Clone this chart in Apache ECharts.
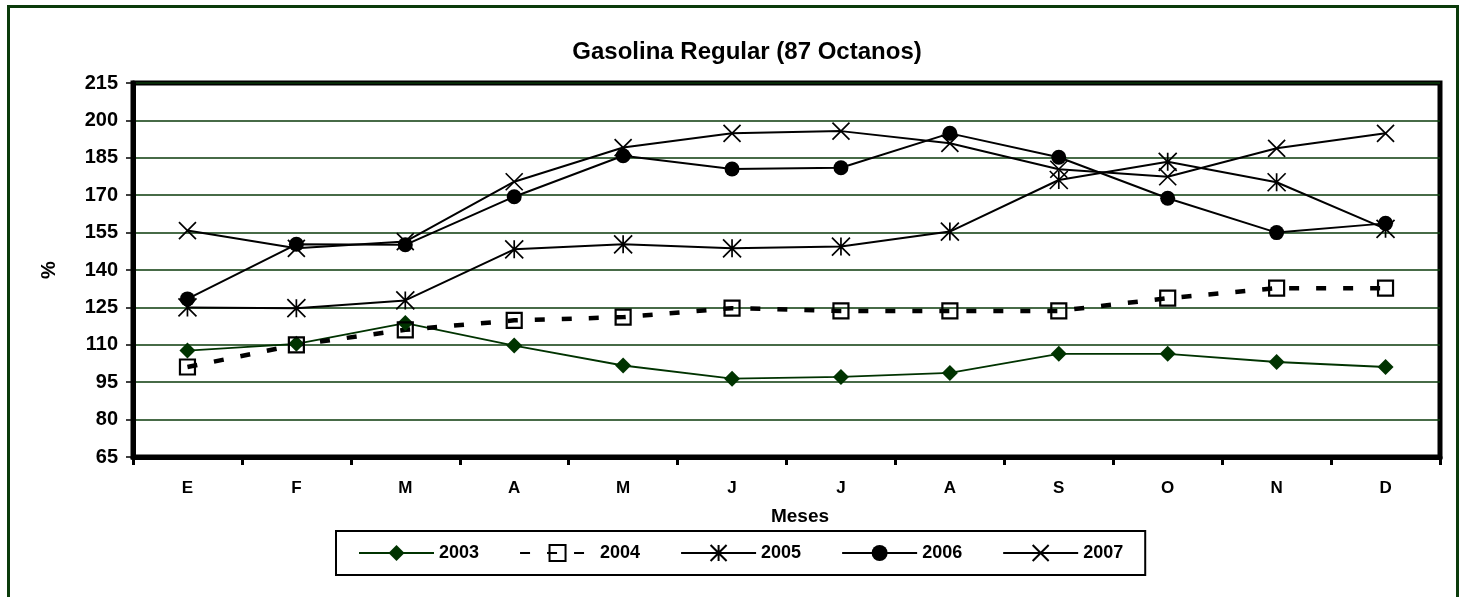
<!DOCTYPE html>
<html>
<head>
<meta charset="utf-8">
<script src="https://cdn.jsdelivr.net/npm/echarts@6/dist/echarts.min.js"></script>
<style>
html,body{margin:0;padding:0;background:#fff;overflow:hidden;}
#chart{width:1462px;height:597px;position:absolute;left:0;top:0;}
#frame{position:absolute;left:7px;top:5px;width:1446px;height:640px;border:3px solid #0b3b0b;pointer-events:none;}
</style>
</head>
<body>
<div id="chart"></div>
<div id="frame"></div>
<script>
const months = ['E','F','M','A','M','J','J','A','S','O','N','D'];
const yTicks = { min: 65, max: 215, interval: 15 };
const s2003 = [107.7, 110.4, 118.7, 109.7, 101.7, 96.4, 97.1, 98.7, 106.4, 106.4, 103.1, 101.1];
const s2004 = [101.1, 110.0, 116.0, 119.8, 121.1, 124.7, 123.6, 123.6, 123.6, 128.7, 132.7, 132.7];
const s2005 = [125.0, 124.7, 127.8, 148.3, 150.3, 148.7, 149.4, 155.4, 176.1, 183.4, 175.2, 156.5];
const s2006 = [128.4, 150.3, 150.1, 169.4, 185.8, 180.5, 181.0, 194.8, 185.2, 168.8, 155.0, 158.7];
const s2007 = [155.8, 148.7, 151.4, 175.4, 189.1, 194.8, 195.7, 190.8, 180.4, 177.4, 188.8, 194.8];

const FONT = '"Liberation Sans", Arial, sans-serif';
const STAR = 'path://M0,0 L20,20 M0,20 L20,0 M10,0 L10,20';
const CROSS = 'path://M0,0 L20,20 M0,20 L20,0';

const chart = echarts.init(document.getElementById('chart'), null, {renderer:'canvas'});
chart.setOption({
  animation: false,
  backgroundColor: '#fff',
  textStyle: { fontFamily: FONT },
  graphic: [
    { type:'text', x: 747, y: 52, style:{ text:'Gasolina Regular (87 Octanos)', font:'bold 24px ' + FONT, fill:'#000', align:'center', verticalAlign:'middle', textAlign:'center', textVerticalAlign:'middle' } },
    { type:'text', x: 800, y: 517, style:{ text:'Meses', font:'bold 19px ' + FONT, fill:'#000', align:'center', verticalAlign:'middle', textAlign:'center', textVerticalAlign:'middle' } }
  ],
  grid: { left: 133, right: 22, top: 83, bottom: 140, show: true, borderColor: '#000', borderWidth: 5, backgroundColor: 'transparent', containLabel: false },
  legend: {
    left: 336, top: 531,
    orient: 'horizontal',
    padding: [13, 22, 13, 22],
    itemWidth: 75, itemHeight: 20, itemGap: 40,
    borderColor: '#000', borderWidth: 2,
    textStyle: { fontFamily: FONT, fontWeight: 'bold', fontSize: 18, color: '#000' },
    data: ['2003','2004','2005','2006','2007']
  },
  xAxis: {
    type: 'category',
    data: months,
    boundaryGap: true,
    axisLine: { show: true, lineStyle: { color: '#000', width: 5 } },
    axisTick: { show: true, alignWithLabel: false, length: 8, lineStyle: { color: '#000', width: 3 } },
    axisLabel: { margin: 23, fontFamily: FONT, fontWeight: 'bold', fontSize: 17, color: '#000' },
    splitLine: { show: false }
  },
  yAxis: {
    type: 'value',
    min: yTicks.min, max: yTicks.max, interval: yTicks.interval,
    name: '%',
    nameLocation: 'middle',
    nameGap: 74,
    nameRotate: 90,
    nameTextStyle: { fontFamily: FONT, fontWeight: 'bold', fontSize: 20, color: '#000' },
    axisLine: { show: true, lineStyle: { color: '#000', width: 5 } },
    axisTick: { show: true, length: 7, lineStyle: { color: '#000', width: 1.5 } },
    axisLabel: { margin: 15, fontFamily: FONT, fontWeight: 'bold', fontSize: 20, color: '#000' },
    splitLine: { show: true, lineStyle: { color: '#0a3a0a', width: 1.5 } }
  },
  series: [
    { name:'2003', type:'line', data:s2003, symbol:'diamond', symbolSize:16,
      itemStyle:{ color:'#003300' }, lineStyle:{ color:'#003300', width:1.8 }, z:3 },
    { name:'2004', type:'line', data:s2004, symbol:'rect', symbolSize:15,
      itemStyle:{ color:'rgba(255,255,255,0)', borderColor:'#000', borderWidth:2.2 },
      lineStyle:{ color:'#000', width:4.5, type:[10,17] }, z:3 },
    { name:'2005', type:'line', data:s2005, symbol:STAR, symbolSize:18,
      itemStyle:{ color:'#000', borderColor:'#000', borderWidth:1.7 }, lineStyle:{ color:'#000', width:2 }, z:3 },
    { name:'2006', type:'line', data:s2006, symbol:'circle', symbolSize:15,
      itemStyle:{ color:'#000' }, lineStyle:{ color:'#000', width:2 }, z:3 },
    { name:'2007', type:'line', data:s2007, symbol:CROSS, symbolSize:17,
      itemStyle:{ color:'#000', borderColor:'#000', borderWidth:1.7 }, lineStyle:{ color:'#000', width:2 }, z:3 }
  ]
});
</script>
</body>
</html>
